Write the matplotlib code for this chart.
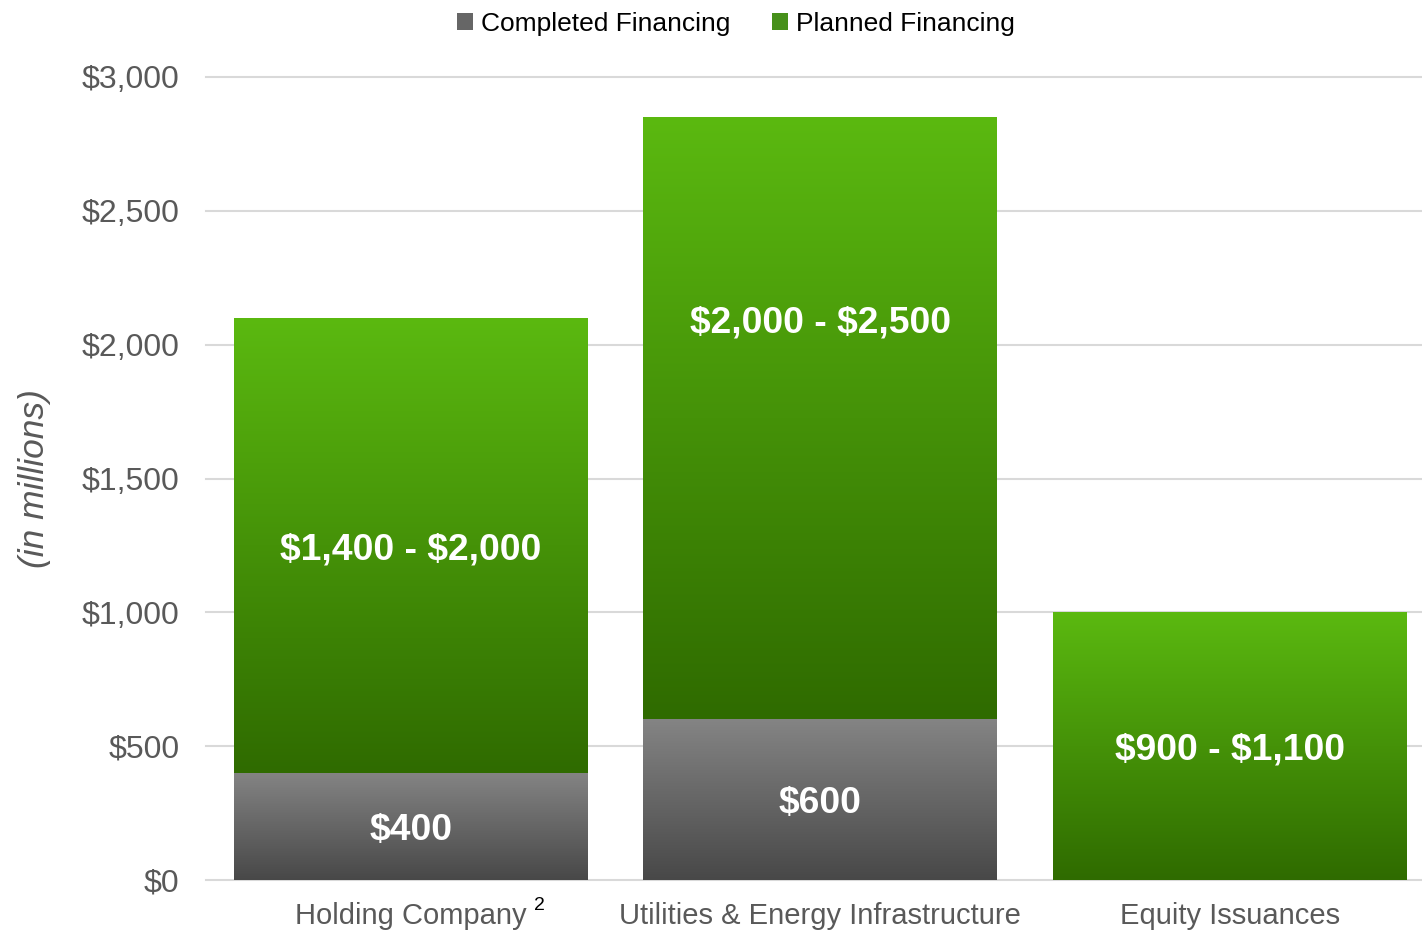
import numpy as np
import matplotlib.pyplot as plt
from matplotlib.colors import LinearSegmentedColormap
from matplotlib.patches import Patch
from matplotlib.transforms import offset_copy

plt.rcParams['font.family'] = ['Liberation Sans', 'DejaVu Sans']

# data (in millions)
categories = ["Holding Company", "Utilities & Energy Infrastructure", "Equity Issuances"]
completed = [400, 600, 0]
planned = [1700, 2250, 1000]
completed_labels = ["$400", "$600", ""]
planned_labels = ["$1,400 - $2,000", "$2,000 - $2,500", "$900 - $1,100"]
yticks = [0, 500, 1000, 1500, 2000, 2500, 3000]

green_cm = LinearSegmentedColormap.from_list("g", ["#2f6b00", "#5bb910"])
gray_cm = LinearSegmentedColormap.from_list("k", ["#484848", "#848484"])

fig = plt.figure(figsize=(14.22, 9.33), dpi=100)
ax = fig.add_axes([206 / 1422, 53 / 933, 1216 / 1422, 803 / 933])

x = np.arange(len(categories))
width = 0.864


def gradient_bar(bars, cmap):
    grad = np.linspace(0, 1, 256).reshape(-1, 1)
    for b in bars:
        h = b.get_height()
        if h <= 0:
            continue
        x0, y0 = b.get_x(), b.get_y()
        im = ax.imshow(grad, cmap=cmap, origin="lower", aspect="auto",
                       extent=[x0, x0 + b.get_width(), y0, y0 + h], zorder=2)
        im.set_clip_path(b)
        b.set_facecolor("none")


b1 = ax.bar(x, completed, width, color="#666666", linewidth=0, zorder=2)
b2 = ax.bar(x, planned, width, bottom=completed, color="#46901a", linewidth=0, zorder=2)
gradient_bar(b1, gray_cm)
gradient_bar(b2, green_cm)

# labels inside the bars (nudged down a little, like the original)
tr = offset_copy(ax.transData, fig=fig, x=0, y=-3, units="points")
planned_label_y = [None, 2095, None]
for i in range(len(categories)):
    if completed[i] > 0:
        ax.text(x[i], completed[i] / 2, completed_labels[i], ha="center", va="center",
                color="white", fontsize=26.8, fontweight="bold", zorder=4,
                transform=tr, parse_math=False)
    py = planned_label_y[i] if planned_label_y[i] else completed[i] + planned[i] / 2
    ax.text(x[i], py, planned_labels[i], ha="center", va="center",
            color="white", fontsize=26.8, fontweight="bold", zorder=4,
            transform=tr, parse_math=False)

ax.set_xlim(-0.5, 2.47)
ax.set_ylim(0, 3000)
ax.set_yticks(yticks)
ax.set_yticklabels(["${:,}".format(v) for v in yticks])
ax.set_xticks(x)
ax.set_xticklabels(categories)
ax.tick_params(axis="y", length=0, pad=19, labelsize=23, labelcolor="#595959")
ax.tick_params(axis="x", length=0, pad=16, labelsize=21, labelcolor="#595959")
ax.grid(axis="y", color="#d9d9d9", linewidth=1.5, zorder=0)
ax.set_axisbelow(True)
for s in ax.spines.values():
    s.set_visible(False)
for gl in ax.get_ygridlines():
    gl.set_clip_on(False)

# superscript on Holding Company
ax.annotate("2", xy=(0, 0), xycoords=("data", "axes fraction"), xytext=(93, -18),
            textcoords="offset points", ha="center", va="center", fontsize=14, color="#000000")

ax.set_ylabel("(in millions)", fontsize=25.5, style="italic", color="#595959")
ax.yaxis.set_label_coords(-0.1276, 0.5)

handles = [Patch(facecolor="#666666", label="Completed Financing"),
           Patch(facecolor="#46901a", label="Planned Financing")]
fig.legend(handles=handles, loc="center", bbox_to_anchor=(736 / 1422, 1 - 24 / 933),
           ncol=2, frameon=False, fontsize=19, handlelength=0.6, handleheight=0.6,
           handletextpad=0.3, columnspacing=1.6)

fig.savefig("out.png", dpi=100)
